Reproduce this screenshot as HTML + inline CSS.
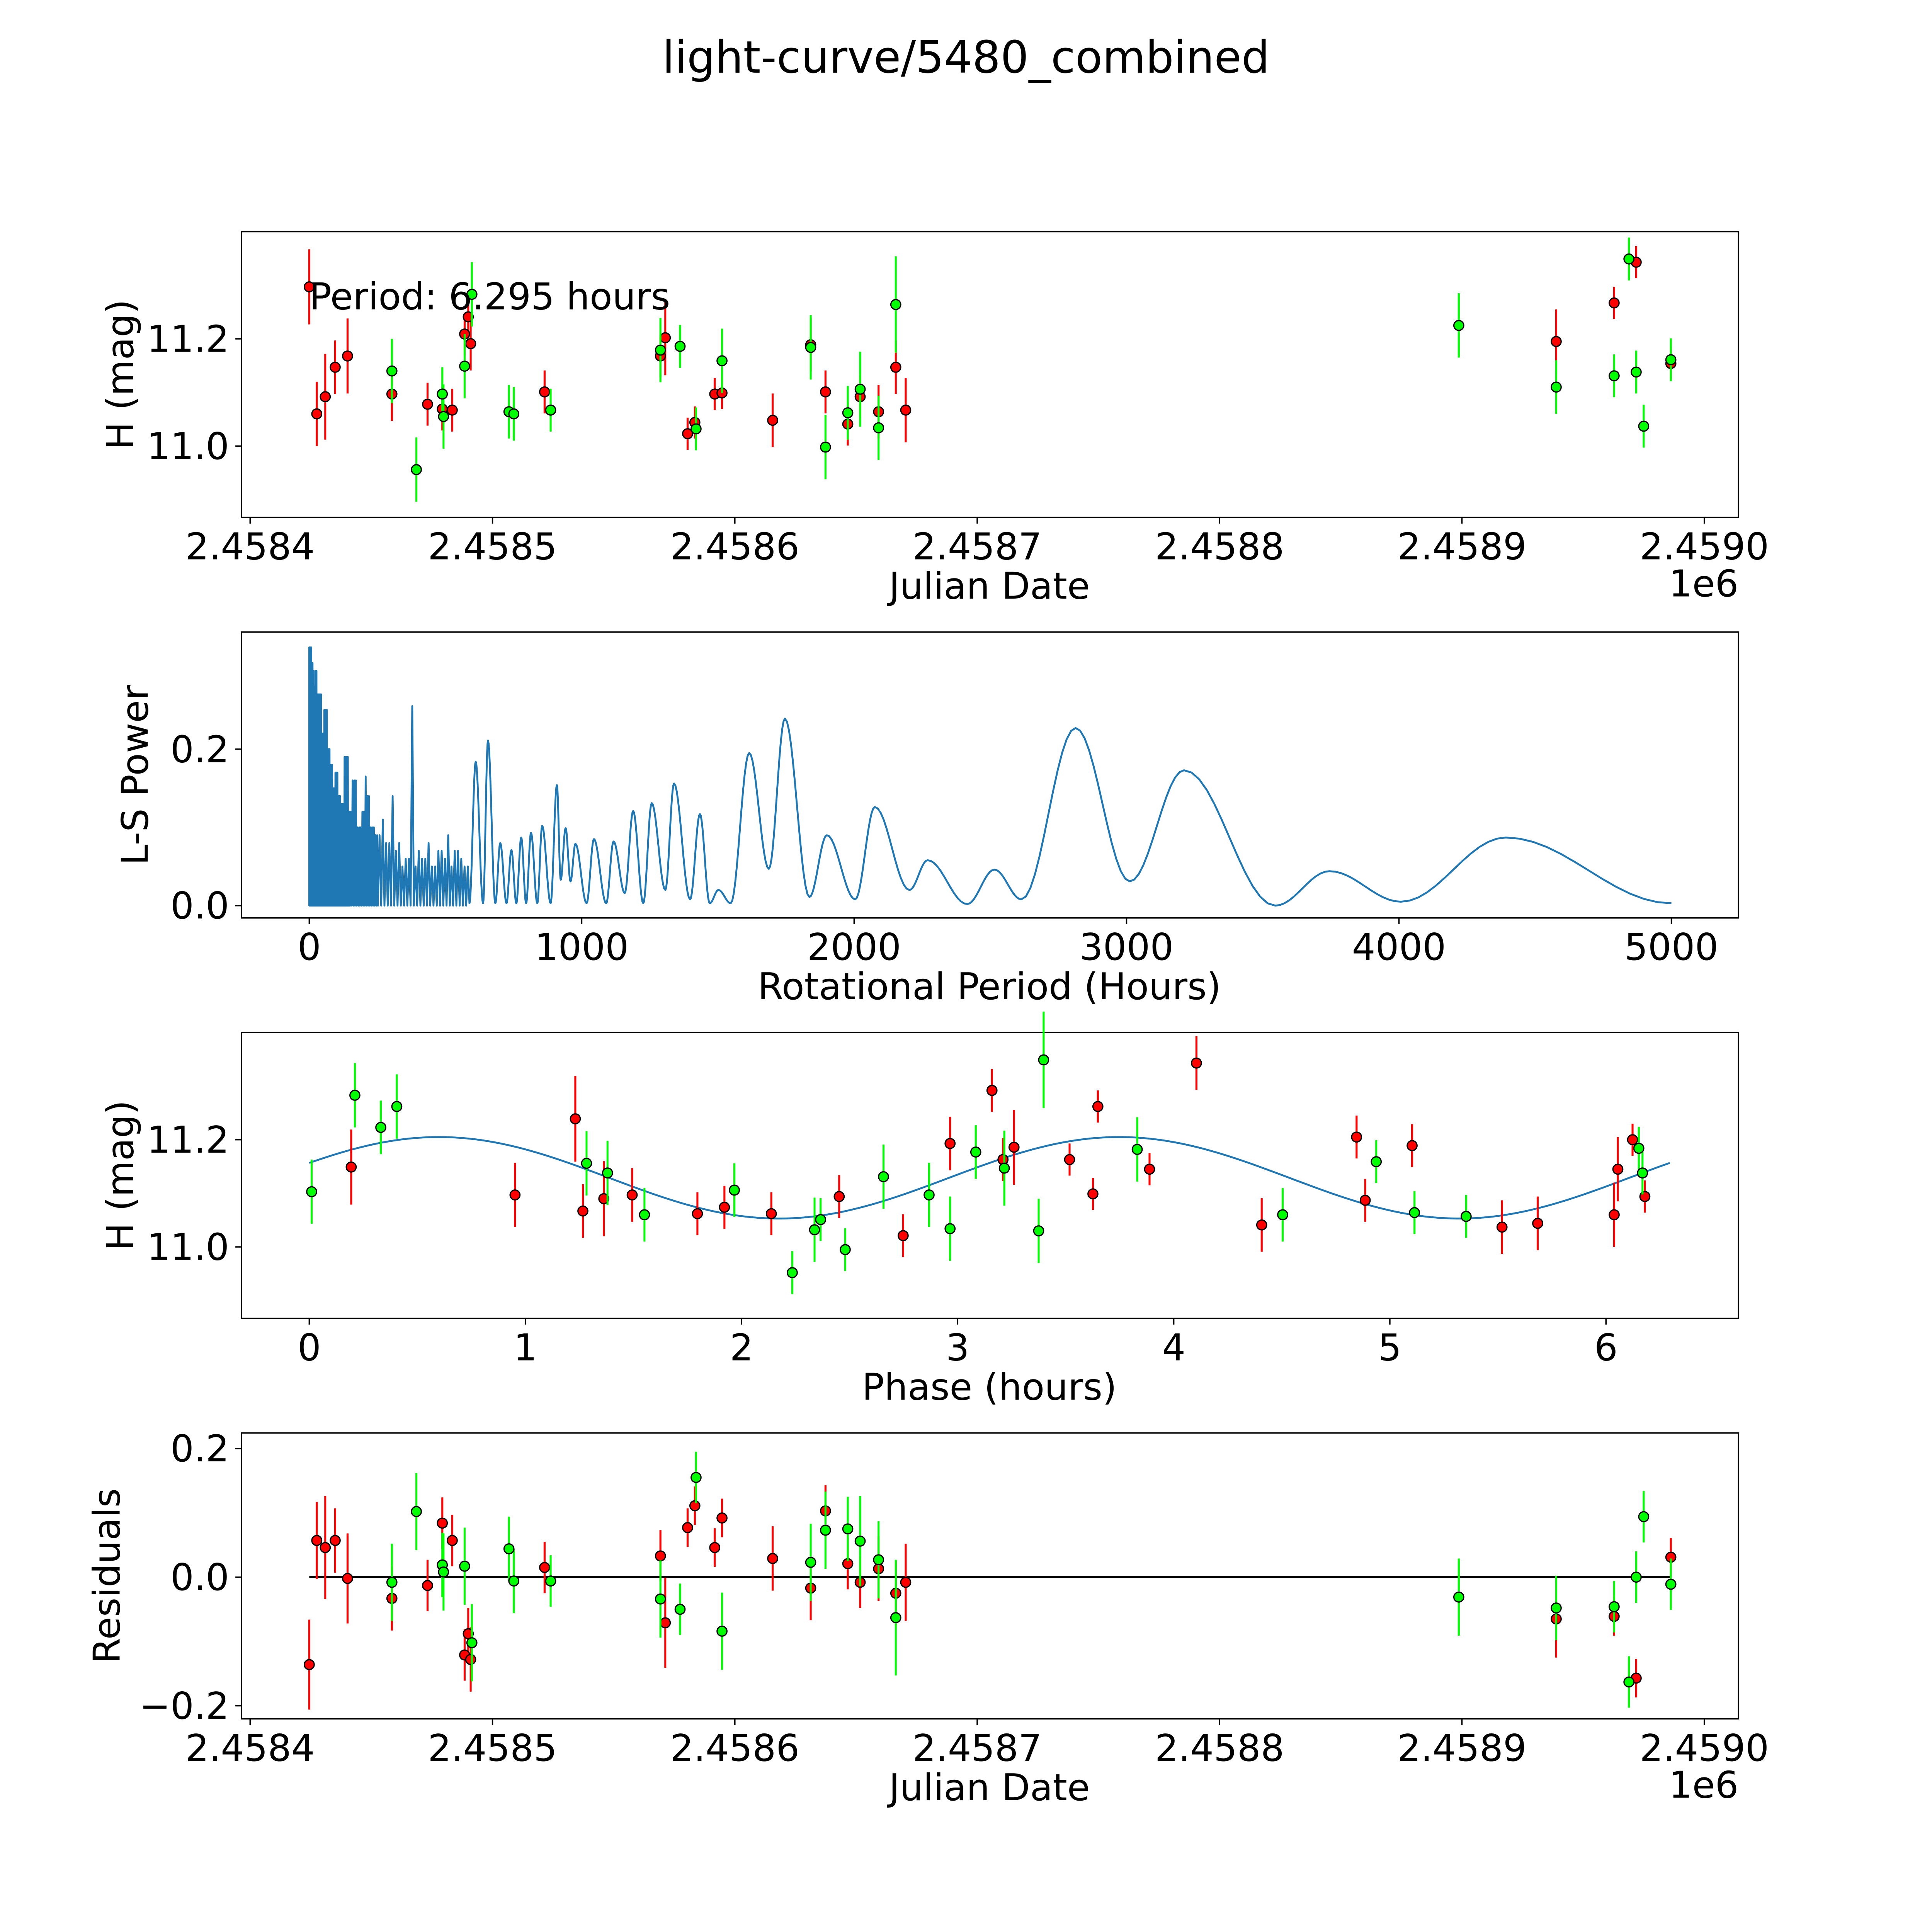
<!DOCTYPE html>
<html><head><meta charset="utf-8"><style>
html,body{margin:0;padding:0;background:#fff;overflow:hidden;width:100%;height:100%}
svg{display:block;width:100vw;height:100vh}
text{font-family:"DejaVu Sans","Liberation Sans",sans-serif;fill:#000}
</style></head><body>
<svg id="fig" xmlns="http://www.w3.org/2000/svg" viewBox="0 0 1568 1568" preserveAspectRatio="none">
<rect x="0" y="0" width="1568" height="1568" fill="#fff"/>
<text x="784" y="59" font-size="36" text-anchor="middle">light-curve/5480_combined</text>
</svg>
<script>
// ---- Panel 1 / 4 data: days since JD 2458400 ----
const redDays=[24.4,27.5,31.0,35.1,40.2,58.5,73.2,79.3,83.4,88.5,90.0,91.0,121.5,169.3,171.3,180.5,183.5,191.7,194.7,215.6,231.3,237.4,246.6,251.7,259.3,266.4,270.5,538.9,562.8,571.9,586.2];
const redH=[11.297,11.060,11.092,11.147,11.168,11.097,11.078,11.069,11.067,11.209,11.241,11.191,11.101,11.168,11.202,11.023,11.044,11.097,11.099,11.048,11.189,11.101,11.041,11.092,11.064,11.147,11.067,11.195,11.267,11.343,11.154];
const redErr=[0.07,0.06,0.08,0.05,0.07,0.05,0.04,0.04,0.04,0.04,0.04,0.05,0.04,0.04,0.07,0.03,0.03,0.03,0.03,0.05,0.05,0.04,0.04,0.04,0.05,0.05,0.06,0.06,0.03,0.03,0.03];
const greenDays=[58.5,68.6,79.3,79.8,88.5,91.5,106.8,108.8,124.0,169.3,177.4,184.0,194.7,231.3,237.4,246.6,251.7,259.3,266.4,498.7,538.9,562.8,568.9,571.9,575.0,586.2];
const greenH=[11.140,10.956,11.097,11.055,11.149,11.283,11.064,11.060,11.067,11.179,11.186,11.032,11.159,11.184,10.998,11.062,11.106,11.034,11.264,11.225,11.110,11.131,11.349,11.138,11.037,11.161];
const greenErr=[0.06,0.06,0.05,0.06,0.06,0.06,0.05,0.05,0.04,0.06,0.04,0.04,0.06,0.06,0.06,0.05,0.07,0.06,0.09,0.06,0.05,0.04,0.04,0.04,0.04,0.04];
const redRes=[-0.136,0.057,0.046,0.057,-0.002,-0.033,-0.013,0.084,0.057,-0.121,-0.088,-0.128,0.015,0.033,-0.071,0.077,0.111,0.046,0.092,0.029,-0.017,0.103,0.021,-0.008,0.013,-0.025,-0.008,-0.065,-0.061,-0.157,0.031];
const greenRes=[-0.008,0.102,0.019,0.008,0.017,-0.102,0.044,-0.006,-0.006,-0.034,-0.050,0.155,-0.084,0.023,0.073,0.075,0.056,0.027,-0.063,-0.031,-0.048,-0.046,-0.163,0.000,0.094,-0.011];
// ---- Panel 3 data ----
const redPhase=[0.194,0.952,1.231,1.266,1.363,1.494,1.796,1.921,2.138,2.452,2.748,2.965,3.159,3.210,3.261,3.518,3.626,3.649,3.888,4.105,4.407,4.846,4.886,5.103,5.519,5.684,6.038,6.055,6.123,6.180];
const redPhaseH=[11.149,11.097,11.239,11.067,11.090,11.097,11.062,11.074,11.062,11.094,11.021,11.193,11.292,11.163,11.186,11.163,11.099,11.262,11.145,11.343,11.041,11.205,11.087,11.189,11.037,11.044,11.060,11.145,11.200,11.094];
const greenPhase=[0.011,0.211,0.331,0.405,1.283,1.380,1.551,1.967,2.235,2.338,2.366,2.480,2.657,2.868,2.965,3.084,3.216,3.375,3.398,3.831,4.504,4.937,5.114,5.353,6.152,6.169];
const greenPhaseH=[11.103,11.283,11.223,11.262,11.156,11.138,11.060,11.106,10.952,11.032,11.051,10.995,11.131,11.097,11.034,11.177,11.147,11.030,11.349,11.182,11.060,11.159,11.064,11.057,11.184,11.138];
const fitMean=11.129, fitAmp=0.076, fitPeak=0.6, fitCycle=3.1475, period=6.295;
// ---- Panel 2 periodogram ----
const lsDensePeriod=[0,5,10,15,20,25,30,40,50,60,70,80,90,100,110,120,135,150,165,180,200,204,215,230,250,270,290,303,320,330,340,360,375,380,385,400,420,440,460,480,500,505,520,540,560,580];
const lsDensePower=[0.33,0.33,0.31,0.30,0.28,0.30,0.27,0.27,0.22,0.25,0.20,0.18,0.15,0.17,0.14,0.13,0.19,0.12,0.16,0.10,0.12,0.165,0.14,0.10,0.09,0.11,0.08,0.14,0.07,0.08,0.05,0.06,0.09,0.255,0.05,0.07,0.06,0.08,0.05,0.07,0.06,0.09,0.05,0.07,0.06,0.05];
const lsPeriod=[588,611,638,656,683,701,724,742,760,778,796,814,837,855,886,909,923,941,959,977,1018,1045,1090,1117,1158,1189,1226,1257,1307,1339,1398,1434,1470,1502,1547,1615,1687,1746,1836,1900,2004,2076,2203,2270,2415,2515,2614,2813,3012,3211,3546,3745,4007,4392,5000];
const lsPower=[0.003,0.184,0.003,0.211,0.003,0.08,0.003,0.071,0.003,0.087,0.003,0.093,0.003,0.102,0.003,0.154,0.033,0.099,0.031,0.079,0.003,0.085,0.003,0.082,0.016,0.121,0.003,0.131,0.02,0.156,0.008,0.117,0.003,0.02,0.003,0.195,0.047,0.239,0.011,0.09,0.008,0.126,0.02,0.058,0.002,0.046,0.008,0.227,0.031,0.173,0.0,0.044,0.005,0.087,0.003];
const jdTicks=[0,100,200,300,400,500,600];
const jdTickLabels=["2.4584","2.4585","2.4586","2.4587","2.4588","2.4589","2.4590"];
const lsTicks=[0,1000,2000,3000,4000,5000];
const phTicks=[0,1,2,3,4,5,6];
const hTicks=[11.0,11.2];
const lsYTicks=[0.0,0.2];
const resTicks=[-0.2,0.0,0.2];

const NS="http://www.w3.org/2000/svg";
const svg=document.getElementById('fig');
function mk(tag,attrs,parent){const e=document.createElementNS(NS,tag);for(const k in attrs)e.setAttribute(k,attrs[k]);(parent||svg).appendChild(e);return e;}
const L=196,R=1411,H=232;
const tops=[188,513,838,1163];
const FT=30, FL=30;
const xJD=d=>203+d*1.967;
const xLS=p=>251+p*0.2211;
const xPH=p=>251+p*175.4;
const yH=(top)=>(v=>top+174-(v-11.0)*435);
const yLS=v=>735-v*635;
const yRes=v=>1280-v*522;

function panel(i,name){
  const g=mk('g',{});
  
  
  return g;
}
function frame(g,top){
  const r=mk('rect',{x:L,y:top,width:R-L,height:H,fill:'none',stroke:'#000','stroke-width':1.1},g);
  
  
}
function xticks(g,top,vals,labels,fx,axisLabel,offset){
  const bot=top+H;
  vals.forEach((v,k)=>{
    const x=fx(v);
    mk('line',{x1:x,y1:bot,x2:x,y2:bot+5,stroke:'#000','stroke-width':1.1},g);
    const t=mk('text',{x:x,y:bot+34,'font-size':FT,'text-anchor':'middle'},g);
    t.textContent=labels[k];
    
    
  });
  const t=mk('text',{x:803,y:bot+66,'font-size':FL,'text-anchor':'middle'},g);
  t.textContent=axisLabel;
  
  
  if(offset){
    const o=mk('text',{x:R,y:bot+64,'font-size':FT,'text-anchor':'end'},g);
    o.textContent=offset;
    
    
  }
}
function yticks(g,vals,labels,fy,axisLabel,lx,top){
  vals.forEach((v,k)=>{
    const y=fy(v);
    mk('line',{x1:L-5,y1:y,x2:L,y2:y,stroke:'#000','stroke-width':1.1},g);
    const t=mk('text',{x:L-10,y:y+10.5,'font-size':FT,'text-anchor':'end'},g);
    t.textContent=labels[k];
    
    
  });
  const cy=top+H/2;
  const t=mk('text',{x:lx,y:cy,'font-size':FL,'text-anchor':'middle',transform:`rotate(-90 ${lx} ${cy})`},g);
  t.textContent=axisLabel;
  
  
}
function points(g,xs,ys,errs,fx,fy,errScale,color,name){
  xs.forEach((xv,k)=>{
    const x=fx(xv),y=fy(ys[k]),e=errs[k]*errScale;
    const l=mk('line',{x1:x,y1:y-e,x2:x,y2:y+e,stroke:color,'stroke-width':1.6},g);
    
    
  });
  xs.forEach((xv,k)=>{
    const c=mk('circle',{cx:fx(xv),cy:fy(ys[k]),r:4,fill:color,stroke:'#000','stroke-width':1},g);
    
    
  });
}
const red='#ff0000',green='#00ff00';

// Panel 1
{const top=tops[0];const g=panel(0,'light-curve-panel');const fy=yH(top);
 frame(g,top);
 points(g,redDays,redH,redErr,xJD,fy,435,red,'red-band');
 points(g,greenDays,greenH,greenErr,xJD,fy,435,green,'green-band');
 xticks(g,top,jdTicks,jdTickLabels,xJD,'Julian Date','1e6');
 yticks(g,hTicks,['11.0','11.2'],fy,'H (mag)',108,top);
 const t=mk('text',{x:251,y:251,'font-size':FL},g);
 t.textContent='Period: 6.295 hours';
 
 
}
// Panel 2
{const top=tops[1];const g=panel(1,'periodogram-panel');
 frame(g,top);
 let d='';
 const step=(p)=>p<150?1.2:(p<250?3:6);
 let p=0,up=true;
 function env(p){for(let k=0;k<lsDensePeriod.length-1;k++){if(p<=lsDensePeriod[k+1]){const a=lsDensePeriod[k],b=lsDensePeriod[k+1];const t=(p-a)/(b-a);return t<0.5?lsDensePower[k]:lsDensePower[k+1];}}return lsDensePower[lsDensePower.length-1];}
 d+=`M${xLS(0)},${yLS(0)}`;
 while(p<lsPeriod[0]){d+=` L${xLS(p).toFixed(2)},${yLS(up?env(p):0).toFixed(2)}`;up=!up;p+=step(p);}
 for(let k=0;k<lsPeriod.length-1;k++){
   const a=lsPeriod[k],b=lsPeriod[k+1],va=lsPower[k],vb=lsPower[k+1];
   for(let s=0;s<=12;s++){const t=s/12;const w=(1-Math.cos(Math.PI*t))/2;d+=` L${xLS(a+(b-a)*t).toFixed(2)},${yLS(va+(vb-va)*w).toFixed(2)}`;}
 }
 const path=mk('path',{d:d,fill:'none',stroke:'#1f77b4','stroke-width':1.5,'stroke-linejoin':'round'},g);
 
 
 xticks(g,top,lsTicks,lsTicks.map(String),xLS,'Rotational Period (Hours)');
 yticks(g,lsYTicks,['0.0','0.2'],yLS,'L-S Power',120,top);
}
// Panel 3
{const top=tops[2];const g=panel(2,'phase-folded-panel');const fy=yH(top);
 frame(g,top);
 let d='';
 for(let s=0;s<=300;s++){const ph=period*s/300;const v=fitMean+fitAmp*Math.cos(2*Math.PI*(ph-fitPeak)/fitCycle);d+=(s?' L':'M')+xPH(ph).toFixed(2)+','+fy(v).toFixed(2);}
 const path=mk('path',{d:d,fill:'none',stroke:'#1f77b4','stroke-width':1.5},g);
 
 
 points(g,redPhase,redPhaseH,redPhase.map((_,k)=>redErr[k]),xPH,fy,435,red,'red-band');
 points(g,greenPhase,greenPhaseH,greenPhase.map((_,k)=>greenErr[k]),xPH,fy,435,green,'green-band');
 xticks(g,top,phTicks,phTicks.map(String),xPH,'Phase (hours)');
 yticks(g,hTicks,['11.0','11.2'],fy,'H (mag)',108,top);
}
// Panel 4
{const top=tops[3];const g=panel(3,'residuals-panel');
 frame(g,top);
 const zl=mk('line',{x1:xJD(redDays[0]),y1:yRes(0),x2:xJD(redDays[redDays.length-1]),y2:yRes(0),stroke:'#000','stroke-width':1.6},g);
 
 
 points(g,redDays,redRes,redErr,xJD,yRes,522,red,'red-band');
 points(g,greenDays,greenRes,greenErr,xJD,yRes,522,green,'green-band');
 xticks(g,top,jdTicks,jdTickLabels,xJD,'Julian Date','1e6');
 yticks(g,resTicks,['\u22120.2','0.0','0.2'],yRes,'Residuals',97,top);
}
</script>
</body></html>
